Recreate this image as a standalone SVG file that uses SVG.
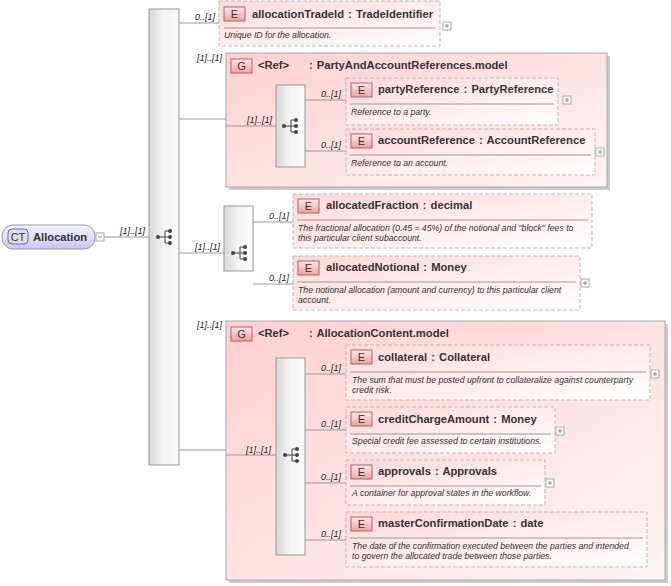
<svg xmlns="http://www.w3.org/2000/svg" width="671" height="586" viewBox="0 0 671 586">
<defs>
<linearGradient id="bar" x1="0" y1="0" x2="1" y2="0"><stop offset="0" stop-color="#d8d8d8"/><stop offset="0.5" stop-color="#f4f4f4"/><stop offset="1" stop-color="#fafafa"/></linearGradient>
<linearGradient id="el" x1="0" y1="0" x2="1" y2="1"><stop offset="0" stop-color="#ffd8d8"/><stop offset="1" stop-color="#ffffff"/></linearGradient>
<linearGradient id="grp" x1="0" y1="0" x2="1" y2="1"><stop offset="0" stop-color="#ffd0d0"/><stop offset="1" stop-color="#fff4f4"/></linearGradient>
<linearGradient id="badge" x1="0" y1="0" x2="0" y2="1"><stop offset="0" stop-color="#ffe8e8"/><stop offset="1" stop-color="#f0a0a0"/></linearGradient>
<linearGradient id="ct" x1="0" y1="0" x2="0" y2="1"><stop offset="0" stop-color="#f4f4ff"/><stop offset="1" stop-color="#c8c8f0"/></linearGradient>
<g id="seq"><circle cx="-8" cy="0" r="2" fill="#444"/><path d="M-8 0H-1M-1 -6V6M-1 -6H3M-1 0H3M-1 6H3" stroke="#444" fill="none"/><circle cx="4" cy="-6" r="2" fill="#444"/><circle cx="4" cy="0" r="2" fill="#444"/><circle cx="4" cy="6" r="2" fill="#444"/></g>
<g id="plus"><rect x="0" y="0" width="8" height="8" fill="#fff" stroke="#aaa"/><path d="M2 4H6M4 2V6" stroke="#888"/></g>
</defs>
<style>
.t{font-family:"Liberation Sans",Arial,sans-serif;font-weight:bold;font-size:11.2px;fill:#333;word-spacing:1px}
.d{font-family:"Liberation Sans",Arial,sans-serif;font-style:italic;font-size:8.7px;fill:#333}
.c{font-family:"Liberation Sans",Arial,sans-serif;font-style:italic;font-size:9px;fill:#222}
.b{font-family:"Liberation Sans",Arial,sans-serif;font-size:11px;fill:#333;text-anchor:middle}
.e{fill:url(#el);stroke:#bbb;stroke-dasharray:4 2}
.g{fill:url(#grp);stroke:#aaa}
.bar{fill:url(#bar);stroke:#999}
.bd{fill:url(#badge);stroke:#a66}
.sep{stroke:#999}
.ln{stroke:#999;fill:none}
</style>
<g id="allocation">
<rect x="2" y="225" width="93" height="24" rx="11" fill="url(#ct)" stroke="#99a"/>
<rect x="8" y="229" width="20" height="15" rx="4" fill="#dde" stroke="#66a"/>
<text class="b" x="18" y="241">CT</text>
<text class="t" x="33" y="241">Allocation</text>
<rect x="96" y="233" width="8" height="8" fill="#fff" stroke="#aaa"/><path d="M98 237H102" stroke="#888"/>
</g>
<g id="mainSeq"><rect class="bar" x="149" y="9" width="30" height="456"/><use href="#seq" x="166" y="237"/></g>
<g id="allocationTradeId">
<rect class="e" x="219" y="1" width="221" height="45"/>
<rect class="bd" x="224" y="7" width="21" height="14"/><text class="b" x="234.5" y="18">E</text>
<text class="t" x="252" y="18">allocationTradeId : TradeIdentifier</text>
<path class="sep" d="M224 28H436"/>
<text class="d" x="224" y="38">Unique ID for the allocation.</text>
<use href="#plus" x="443" y="22"/>
</g>
<g id="partyAndAccountGroup">
<rect x="229" y="56" width="381" height="134" fill="#ccc"/>
<rect class="g" x="226" y="53" width="381" height="134"/>
<rect class="bd" x="231" y="59" width="21" height="14"/><text class="b" x="241.5" y="70">G</text>
<text class="t" x="258" y="69">&lt;Ref&gt;</text>
<text class="t" x="309" y="69">: PartyAndAccountReferences.model</text>
<rect class="bar" x="276" y="85" width="29" height="82"/><use href="#seq" x="292" y="126"/>
</g>
<g id="partyReference">
<rect class="e" x="346" y="78" width="212" height="47"/>
<rect class="bd" x="351" y="83" width="21" height="14"/><text class="b" x="361.5" y="94">E</text>
<text class="t" x="378" y="93">partyReference : PartyReference</text>
<path class="sep" d="M350 104H554"/>
<text class="d" x="351" y="115">Reference to a party.</text>
<use href="#plus" x="563" y="96"/>
</g>
<g id="accountReference">
<rect class="e" x="346" y="129" width="249" height="46"/>
<rect class="bd" x="351" y="134" width="21" height="14"/><text class="b" x="361.5" y="145">E</text>
<text class="t" x="378" y="144">accountReference : AccountReference</text>
<path class="sep" d="M350 155H591"/>
<text class="d" x="351" y="166">Reference to an account.</text>
<use href="#plus" x="596" y="148"/>
</g>
<g id="seq2"><rect class="bar" x="224" y="206" width="29" height="65"/><use href="#seq" x="241" y="253"/></g>
<g id="allocatedFraction">
<rect class="e" x="293" y="194" width="299" height="54"/>
<rect class="bd" x="298" y="199" width="21" height="14"/><text class="b" x="308.5" y="210">E</text>
<text class="t" x="326" y="209">allocatedFraction : decimal</text>
<path class="sep" d="M297 220H588"/>
<text class="d" x="298" y="231">The fractional allocation (0.45 = 45%) of the notional and "block" fees to</text>
<text class="d" x="298" y="241">this particular client subaccount.</text>
</g>
<g id="allocatedNotional">
<rect class="e" x="293" y="256" width="287" height="54"/>
<rect class="bd" x="298" y="261" width="21" height="14"/><text class="b" x="308.5" y="272">E</text>
<text class="t" x="326" y="271">allocatedNotional : Money</text>
<path class="sep" d="M297 282H576"/>
<text class="d" x="298" y="293">The notional allocation (amount and currency) to this particular client</text>
<text class="d" x="298" y="303">account.</text>
<use href="#plus" x="581" y="279"/>
</g>
<g id="allocationContentGroup">
<rect x="229" y="324" width="439" height="259" fill="#ccc"/>
<rect class="g" x="226" y="321" width="439" height="259"/>
<rect class="bd" x="231" y="327" width="21" height="14"/><text class="b" x="241.5" y="338">G</text>
<text class="t" x="258" y="337">&lt;Ref&gt;</text>
<text class="t" x="309" y="337">: AllocationContent.model</text>
<rect class="bar" x="276" y="358" width="29" height="197"/><use href="#seq" x="293" y="455"/>
</g>
<g id="collateral">
<rect class="e" x="346" y="345" width="304" height="55"/>
<rect class="bd" x="351" y="350" width="21" height="14"/><text class="b" x="361.5" y="361">E</text>
<text class="t" x="378" y="361">collateral : Collateral</text>
<path class="sep" d="M350 372H646"/>
<text class="d" x="352" y="383">The sum that must be posted upfront to collateralize against counterparty</text>
<text class="d" x="352" y="393">credit risk.</text>
<use href="#plus" x="651" y="370"/>
</g>
<g id="creditChargeAmount">
<rect class="e" x="346" y="407" width="209" height="46"/>
<rect class="bd" x="351" y="412" width="21" height="14"/><text class="b" x="361.5" y="423">E</text>
<text class="t" x="378" y="423">creditChargeAmount : Money</text>
<path class="sep" d="M350 434H551"/>
<text class="d" x="352" y="444">Special credit fee assessed to certain institutions.</text>
<use href="#plus" x="556" y="427"/>
</g>
<g id="approvals">
<rect class="e" x="346" y="460" width="199" height="45"/>
<rect class="bd" x="351" y="465" width="21" height="14"/><text class="b" x="361.5" y="476">E</text>
<text class="t" x="378" y="475">approvals : Approvals</text>
<path class="sep" d="M350 486H541"/>
<text class="d" x="352" y="496">A container for approval states in the workflow.</text>
<use href="#plus" x="546" y="479"/>
</g>
<g id="masterConfirmationDate">
<rect class="e" x="346" y="512" width="301" height="55"/>
<rect class="bd" x="351" y="517" width="21" height="14"/><text class="b" x="361.5" y="528">E</text>
<text class="t" x="378" y="527">masterConfirmationDate : date</text>
<path class="sep" d="M350 538H643"/>
<text class="d" x="352" y="549">The date of the confirmation executed between the parties and intended</text>
<text class="d" x="352" y="559">to govern the allocated trade between those parties.</text>
</g>
<g id="connectors">
<path class="ln" d="M104 237H149M179 23H219M179 119H226M226 126H276M305 100H346M305 151H346M179 253H224M253 222H293M253 284H293M179 450H226M226 455H276M305 374H346M305 430H346M305 483H346M305 540H346"/>
<text class="c" x="120" y="234">[1]..[1]</text>
<text class="c" x="195" y="20">0..[1]</text>
<text class="c" x="197" y="61">[1]..[1]</text>
<text class="c" x="247" y="123">[1]..[1]</text>
<text class="c" x="321" y="97">0..[1]</text>
<text class="c" x="321" y="148">0..[1]</text>
<text class="c" x="195" y="250">[1]..[1]</text>
<text class="c" x="269" y="219">0..[1]</text>
<text class="c" x="269" y="281">0..[1]</text>
<text class="c" x="197" y="328">[1]..[1]</text>
<text class="c" x="246" y="453">[1]..[1]</text>
<text class="c" x="321" y="371">0..[1]</text>
<text class="c" x="321" y="427">0..[1]</text>
<text class="c" x="321" y="480">0..[1]</text>
<text class="c" x="321" y="537">0..[1]</text>
</g>
</svg>
